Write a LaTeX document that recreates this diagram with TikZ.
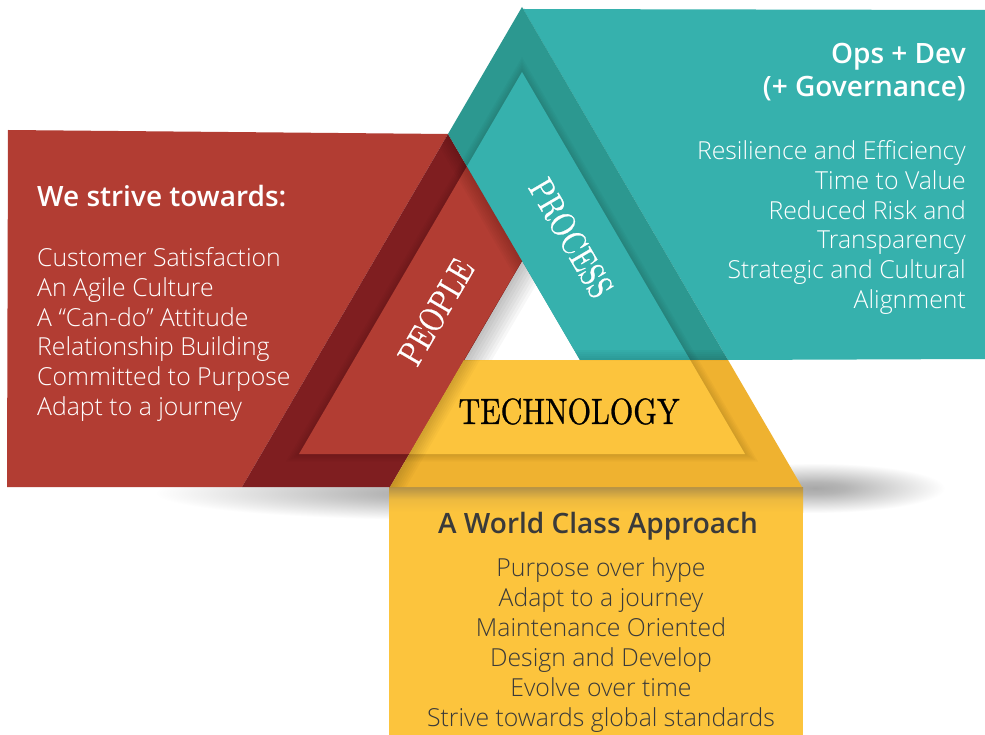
\documentclass[tikz,border=0pt]{standalone}
\usepackage{fontspec}
\usepackage{graphicx}
\IfFontExistsTF{Open Sans Light}{\newfontfamily\osl{Open Sans Light}}{\newfontfamily\osl{Open Sans}}
\IfFontExistsTF{Open Sans SemiBold}{\newfontfamily\oss{Open Sans SemiBold}}{%
  \IfFontExistsTF{Open Sans Semibold}{\newfontfamily\oss{Open Sans Semibold}}{%
    \newfontfamily\ossx{Open Sans}\newcommand\oss{\ossx\bfseries}}}
\IfFontExistsTF{lmroman10-regular.otf}{\newfontfamily\serifx{lmroman10-regular.otf}[FakeBold=0.8]}{\newfontfamily\serifx{Latin Modern Roman}[FakeBold=1.2]}
\definecolor{redL}{HTML}{B23D33}
\definecolor{redD}{HTML}{7F1E20}
\definecolor{tealL}{HTML}{36B1AD}
\definecolor{tealD}{HTML}{2C9890}
\definecolor{yelL}{HTML}{FCC43D}
\definecolor{yelD}{HTML}{EFB230}
\definecolor{ytxt}{HTML}{3A3A3A}
\definecolor{ysh}{HTML}{B39147}
\definecolor{shc}{HTML}{A8A8A8}
\pgfdeclareradialshading{softsh}{\pgfpoint{0bp}{0bp}}{color(0bp)=(shc); color(6bp)=(shc!85!white); color(16bp)=(shc!40!white); color(25bp)=(white); color(50bp)=(white)}
\tikzset{
  hd/.style={inner sep=0pt, font=\oss\fontsize{28}{28}\selectfont},
  lt/.style={inner sep=0pt, font=\osl\fontsize{24.8}{24.8}\selectfont},
  lab/.style={inner sep=0pt, font=\serifx\fontsize{35}{35}\selectfont},
  castsh/.style={black, opacity=0.025, line cap=butt}
}
\begin{document}
\begin{tikzpicture}[x=1pt,y=-1pt]
\fill[white] (0,0) rectangle (985,735);
\useasboundingbox (0,0) rectangle (985,735);
% key points
\coordinate (A) at (522,7);
\coordinate (B) at (242,487);
\coordinate (C) at (802,487);
\coordinate (LA) at (522,72);
\coordinate (LB) at (299,454);
\coordinate (LC) at (745,454);
\coordinate (HA) at (522,261);
\coordinate (HB) at (464,360);
\coordinate (HC) at (580,360);
\coordinate (P1) at (448,134);
\coordinate (R) at (728,360);
\coordinate (Q) at (390,487);
% ground shadows
\shade[shading=softsh] (455,493) ellipse (300 and 27);
\shade[shading=softsh] (815,488) ellipse (130 and 25);
% rectangles
\fill[redL] (8,130) -- (P1) -- (B) -- (7,487) -- cycle;
\fill[tealL] (523,9) -- (985,10) -- (985,359) -- (R) -- cycle;
\fill[yelL] (389,487) rectangle (803,735);
\shade[top color=ysh, bottom color=yelL, middle color=yelL!80!ysh] (389,487) rectangle (803,512);
% bands (dark frame)
\fill[redD] (B) -- (P1) -- (HA) -- (Q) -- cycle;
\fill[tealD] (A) -- (R) -- (HC) -- (P1) -- cycle;
\fill[yelD] (C) -- (Q) -- (HB) -- (R) -- cycle;
% shadow of the raised inner triangle onto the frame
\begin{scope}
  \clip (A) -- (B) -- (C) -- cycle;
  \foreach \w in {3,6,9,12,15}
    \draw[castsh, line width=\w pt, line join=miter] (LA) -- (LB) -- (LC) -- cycle;
\end{scope}
% light parts of the bands
\begin{scope}
  \clip (LA) -- (LB) -- (LC) -- cycle;
  \fill[redL] (B) -- (P1) -- (HA) -- (Q) -- cycle;
  \fill[tealL] (A) -- (R) -- (HC) -- (P1) -- cycle;
  \fill[yelL] (C) -- (Q) -- (HB) -- (R) -- cycle;
\end{scope}
% cast shadows between bands
\begin{scope}
  \clip (B) -- (P1) -- (HA) -- (Q) -- cycle;
  \foreach \w in {4,8,...,28}
    \draw[castsh, line width=\w pt] (430,103) -- (540,292);
\end{scope}
\begin{scope}
  \clip (C) -- (Q) -- (HB) -- (R) -- cycle;
  \foreach \w in {4,8,...,28}
    \draw[castsh, line width=\w pt] (480,332) -- (375,513);
\end{scope}
\begin{scope}
  \clip (A) -- (R) -- (HC) -- (P1) -- cycle;
  \foreach \w in {4,8,...,20}
    \draw[castsh, line width=\w pt] (570,360) -- (745,360);
\end{scope}
% shadow inside the hole
\begin{scope}
  \clip (HA) -- (HB) -- (HC) -- cycle;
  \foreach \w in {6,12,...,48}
    \draw[black, opacity=0.03, line width=\w pt] (535,239) -- (450,384);
\end{scope}
% band labels
\node[lab, text=white, rotate=59.7] (people) at (436,312) {\scalebox{0.8}[1]{PEOPLE}};
\node[lab, text=white, rotate=-59.7] (process) at (571,238) {\scalebox{0.8}[1]{PROCESS}};
\node[lab, text=black, font=\serifx\fontsize{36.5}{36.5}\selectfont] (tech) at (569,411.5) {\scalebox{0.825}[1]{TECHNOLOGY}};
% red panel text
\node[hd, text=white, anchor=base west] (rhead) at (37,207) {We strive towards:};
\foreach \t [count=\i from 0] in {{Customer Satisfaction},{An Agile Culture},{A “Can-do” Attitude},{Relationship Building},{Committed to Purpose},{Adapt to a journey}}
  \node[lt, text=white, anchor=base west] (rl\i) at (37,266.7+29.7*\i) {\t};
% teal panel text
\node[hd, text=white, anchor=base east] (thead1) at (966,64) {Ops + Dev};
\node[hd, text=white, anchor=base east] (thead2) at (966,96.5) {(+ Governance)};
\foreach \t [count=\i from 0] in {{Resilience and Efficiency},{Time to Value},{Reduced Risk and},{Transparency},{Strategic and Cultural},{Alignment}}
  \node[lt, text=white, anchor=base east] (tl\i) at (966,160+29.66*\i) {\t};
% yellow panel text
\node[hd, text=ytxt, anchor=base] (yhead) at (598,533.3) {A World Class Approach};
\foreach \t [count=\i from 0] in {{Purpose over hype},{Adapt to a journey},{Maintenance Oriented},{Design and Develop},{Evolve over time},{Strive towards global standards}}
  \node[lt, text=ytxt, anchor=base] (yl\i) at (601,576+30*\i) {\t};
\end{tikzpicture}
\end{document}
